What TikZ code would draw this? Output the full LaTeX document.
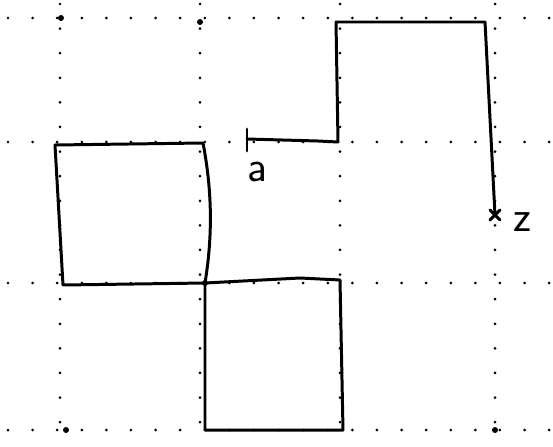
\documentclass[tikz,border=0pt]{standalone}
\usetikzlibrary{calc}
\tikzset{
  gridline/.style={line width=1.7pt,line cap=round,dash pattern=on 0pt off 14pt},
  walk/.style={line width=1.7pt,line join=round,line cap=round},
  letter/.style={font=\sffamily\fontsize{25}{25}\selectfont,inner sep=0pt}
}
\begin{document}
\begin{tikzpicture}[x=0.02cm,y=-0.02cm]
  \useasboundingbox (0,0) rectangle (553,446);
  % Dotted grid
  \foreach \gx in {60,200,340,495}
    \draw[gridline] (\gx,4) -- (\gx,446);
  \foreach \gy in {18,142,283,430}
    \draw[gridline] (8,\gy) -- (553,\gy);
  \foreach \p in {(61,18),(200,22),(495,430),(66,430),(205,283)}
    \fill \p circle(3);
  % Walk from a to z
  \coordinate (a) at (247,139);
  \coordinate (z) at (495,215);
  \draw[walk] ($(a)+(0,-10)$) -- ($(a)+(0,12)$);
  \draw[walk] (a) -- (318,141) -- (338,142) -- (336,22)
       -- (485,22) -- (z);
  \draw[walk] ($(z)+(-5,-5)$) -- ($(z)+(5,5)$);
  \draw[walk] ($(z)+(-5,5)$) -- ($(z)+(5,-5)$);
  \node[letter] (alabel) at (257,172) {a};
  \node[letter] (zlabel) at (522,222) {z};
  % Left square
  \draw[walk] (55,145) -- (203,143)
       .. controls (213,195) and (212,240) .. (205,283)
       -- (63,285) -- cycle;
  % Lower square
  \draw[walk] (205,283) -- (300,278) -- (340,280) -- (343,430)
       -- (205,430) -- cycle;
\end{tikzpicture}
\end{document}
